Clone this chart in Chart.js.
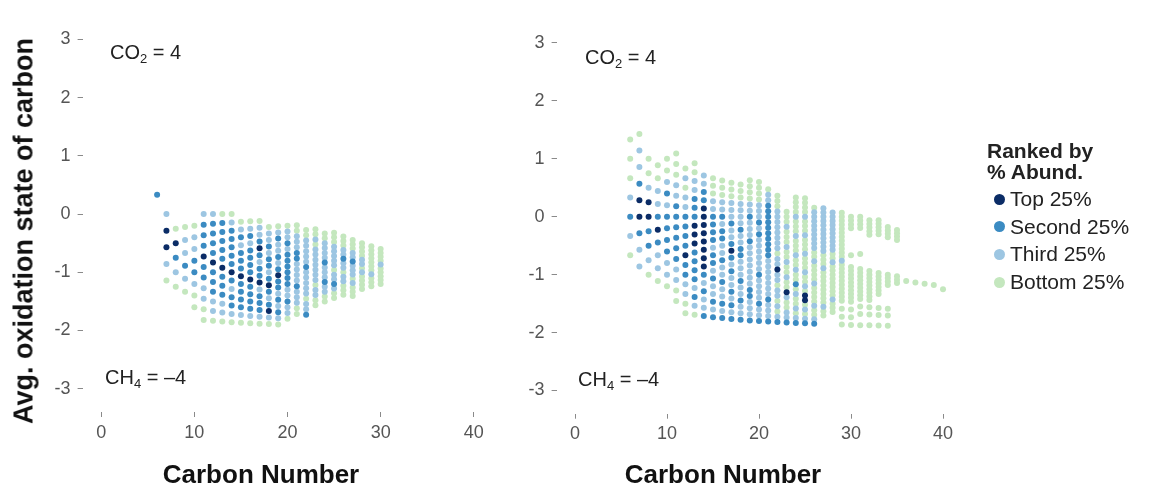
<!DOCTYPE html>
<html>
<head>
<meta charset="utf-8">
<script src="https://cdn.jsdelivr.net/npm/chart.js@4.4.1/dist/chart.umd.min.js"></script>
<style>
  html, body { margin: 0; padding: 0; background: #fff; }
  #wrap { position: relative; width: 1157px; height: 486px; overflow: hidden;
          font-family: "Liberation Sans", Arial, sans-serif; color: #111; }
  canvas { position: absolute; left: 0; top: 0; }
  .txt { position: absolute; white-space: nowrap; line-height: 1; }
  .ytitle { left: 24px; top: 231px; font-weight: bold; font-size: 27px;
            transform: translate(-50%, -50%) rotate(-90deg); }
  .xtitle { top: 461px; font-weight: bold; font-size: 26px; transform: translateX(-50%); }
  .note { font-size: 20px; color: #222; }
  .note sub { font-size: 13px; vertical-align: -4px; line-height: 0; }
  .legend { position: absolute; left: 987px; top: 140px; font-size: 21px; color: #222; }
  .legend .ttl { font-weight: bold; line-height: 21px; }
  .legend .item { position: relative; height: 27.7px; line-height: 27.7px; padding-left: 23px; }
  .legend .dot { position: absolute; left: 7px; top: 8.5px; width: 11px; height: 11px; border-radius: 50%; }
</style>
</head>
<body>
<div id="wrap">
  <canvas id="leftPanel" width="1157" height="486"></canvas>
  <canvas id="rightPanel" width="1157" height="486"></canvas>

  <div class="txt ytitle">Avg. oxidation state of carbon</div>
  <div class="txt xtitle" style="left:261px;">Carbon Number</div>
  <div class="txt xtitle" style="left:723px;">Carbon Number</div>

  <div class="txt note" style="left:110px; top:42px;">CO<sub>2</sub> = 4</div>
  <div class="txt note" style="left:585px; top:47px;">CO<sub>2</sub> = 4</div>
  <div class="txt note" style="left:105px; top:367px;">CH<sub>4</sub> = &#8211;4</div>
  <div class="txt note" style="left:578px; top:369px;">CH<sub>4</sub> = &#8211;4</div>

  <div class="legend" id="legend">
    <div class="ttl">Ranked by</div>
    <div class="ttl" style="margin-bottom:3px;">% Abund.</div>
  </div>
</div>

<script>
// Abundance classes, most abundant first
const rankKeys   = ['d', 's', 't', 'b'];
const rankNames  = ['Top 25%', 'Second 25%', 'Third 25%', 'Bottom 25%'];
const rankColors = ['#0b2c66', '#3b8bc2', '#9dc6e2', '#c4e7be'];

const xTicks = [0, 10, 20, 30, 40];
const yTicks = [-3, -2, -1, 0, 1, 2, 3];

// Each column is one carbon number. For CcHhOo the average carbon oxidation
// state is (2o - h)/c, so formulas in a column sit on steps of 2/c.
// low  = lowest step index in the column
// rank = abundance class per step, bottom to top ('.' = no formula),
//        written as runs, e.g. "b t2" = b, t, t
const leftCarbon = [6, 7, 8, 9, 10, 11, 12, 13, 14, 15, 16, 17, 18, 19, 20,
                    21, 22, 23, 24, 25, 26, 27, 28, 29, 30];
const leftLow = [1, -4, -5, -6, -8, -10, -11, -12, -13, -14, -15, -16, -17, -18, -18,
                 -18, -19, -18, -18, -18, -18, -19, -18, -18, -18];
const leftRank = [
  "s",
  "b t d2 t",
  "b t s d b",
  "b t s t2 b",
  "b2 t s2 t2 b",
  "b2 t2 s2 d s3 t",
  "b t2 s3 d s4 t",
  "b t2 s3 d s5 b",
  "b t s2 t s d s5 t b",
  "b t s4 d s3 t s t b",
  "b t s4 d s4 t s t b",
  "b t s3 t d s2 t s d s t2 b",
  "b t d s t s d s t s2 t s t2 b",
  "b t s t s t s2 d s t s t2 s t b",
  "b t2 s t2 s6 t s t2 b",
  "b2 t3 s t4 s2 t3 b2",
  "s t2 b t5 s t5 b2",
  "b2 t2 b t7 b t b2",
  "b2 t2 s t3 s t4 b2",
  "b2 t s t2 b t5 b3",
  "b3 t2 b t2 s t2 b3",
  "b3 t b t3 s t2 b3",
  "b4 t b t2 b4",
  "b3 t b7",
  "b5 t b4"
];

const rightCarbon = [6, 7, 8, 9, 10, 11, 12, 13, 14, 15, 16, 17, 18, 19, 20,
                     21, 22, 23, 24, 25, 26, 27, 28, 29, 30, 31, 32, 33, 34, 35,
                     36, 37, 38, 39, 40];
const rightLow = [-2, -3, -4, -5, -6, -8, -10, -11, -12, -13, -14, -15, -16, -17, -18,
                  -19, -20, -21, -22, -23, -24, -23, -23, -27, -28, -29, -30, -31, -32, -20,
                  -20, -21, -22, -23, -25];
const rightRank = [
  "b t s t b3",
  "t2 s d2 s t2 b",
  "b t s2 d2 t b2",
  "b t2 s d s t2 b2",
  "b t2 s4 t s t b2",
  "b2 t2 s6 t2 b3",
  "b2 t2 s2 d s4 t2 b t b",
  "b t s t s4 d3 s3 t2 b2",
  "s t2 s t s d8 s2 t2",
  "s t s t2 s t s2 t s4 t2 b3",
  "s t s t2 s t2 s t2 s2 t s t2 b3",
  "s t s t s t2 s t s d s t2 s t3 b3",
  "s t2 s t2 s t3 s2 t2 s t4 b3",
  "s t3 s2 t7 s t3 s t2 b4",
  "s t2 s t4 s t6 s t s t3 b4",
  "s t3 s t7 s10 t2 b",
  "s t b t b t2 b t2 d t2 b t8 b3",
  "s t2 b2 t d b2 t b2 t b2 t b3 t b3",
  "s t b t b2 t b s b2 t b2 t b3 t b3 t b4",
  "s t b t b d2 b t b2 t b3 t b3 t b3 t b4",
  "s t b2 t b4 t b4 t b2 t9 b",
  "b2 t b8 t b3 t11",
  "b3 t b8 t b2 t10",
  "b . b . b . b10 t b12",
  "b . b . b . b10 .2 b .6 b4",
  "b .2 b . b . b9 .3 b .6 b4",
  "b .2 b . b . b9 .9 b5",
  "b .2 b . b .3 b7 .10 b5",
  "b .2 b . b .6 b4 .10 b4",
  "b3 .10 b4",
  "b", "b", "b", "b", "b"
];

function expandRuns(runs) {
  const out = [];
  runs.trim().split(/\s+/).forEach(tok => {
    const key = tok[0];
    const n = tok.length > 1 ? parseInt(tok.slice(1), 10) : 1;
    for (let i = 0; i < n; i++) out.push(key);
  });
  return out;
}

function buildSets(carbons, lows, ranks) {
  const sets = { d: [], s: [], t: [], b: [] };
  carbons.forEach((c, i) => {
    expandRuns(ranks[i]).forEach((key, j) => {
      if (key === '.') return;
      const step = lows[i] + j;
      sets[key].push({ x: c, y: 2 * step / c });
    });
  });
  return sets;
}

const tickFont = { family: '"Liberation Sans", Arial, sans-serif', size: 18 };

function drawPanel(canvasId, sets, box) {
  return new Chart(document.getElementById(canvasId), {
    type: 'scatter',
    data: {
      datasets: rankKeys.map((k, i) => ({
        label: rankNames[i],
        data: sets[k],
        backgroundColor: rankColors[i],
        borderWidth: 0,
        pointRadius: 3,
        pointHoverRadius: 3
      }))
    },
    options: {
      responsive: false,
      animation: false,
      events: [],
      layout: { padding: { left: box.padLeft, right: box.padRight, top: box.padTop, bottom: 0 } },
      plugins: { legend: { display: false }, tooltip: { enabled: false } },
      scales: {
        x: {
          type: 'linear', min: -2, max: 42,
          afterBuildTicks: s => { s.ticks = xTicks.map(v => ({ value: v })); },
          afterFit: s => { s.height = box.xAxisH; },
          ticks: { font: tickFont, color: '#555', padding: 5, maxRotation: 0,
                   callback: v => String(v) },
          grid: { display: true, drawOnChartArea: false, drawTicks: true,
                  tickLength: 5, color: '#8a8a8a', lineWidth: 1 },
          border: { display: false }
        },
        y: {
          type: 'linear', min: -3.4, max: 3.3,
          afterBuildTicks: s => { s.ticks = yTicks.map(v => ({ value: v })); },
          afterFit: s => { s.width = box.yAxisW; },
          ticks: { font: tickFont, color: '#555', padding: 7,
                   callback: v => String(v) },
          grid: { display: true, drawOnChartArea: false, drawTicks: true,
                  tickLength: 5, color: '#8a8a8a', lineWidth: 1 },
          border: { display: false }
        }
      }
    }
  });
}

drawPanel('leftPanel', buildSets(leftCarbon, leftLow, leftRank),
          { padLeft: 0, yAxisW: 82.6, padRight: 664.6, padTop: 22, xAxisH: 74 });
drawPanel('rightPanel', buildSets(rightCarbon, rightLow, rightRank),
          { padLeft: 516.6, yAxisW: 40, padRight: 195.6, padTop: 25.6, xAxisH: 72.3 });

// legend entries
const legend = document.getElementById('legend');
rankNames.forEach((name, i) => {
  const row = document.createElement('div');
  row.className = 'item';
  const dot = document.createElement('span');
  dot.className = 'dot';
  dot.style.background = rankColors[i];
  row.appendChild(dot);
  row.appendChild(document.createTextNode(name));
  legend.appendChild(row);
});
</script>
</body>
</html>
